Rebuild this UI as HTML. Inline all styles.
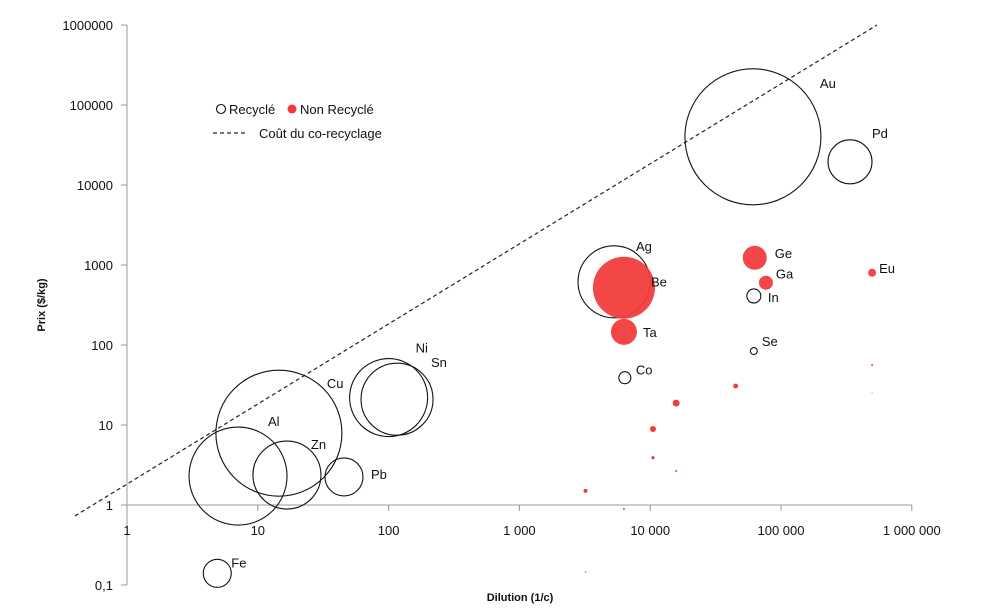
<!DOCTYPE html>
<html><head><meta charset="utf-8"><style>
body{margin:0;background:#fff}
svg{display:block;font-family:"Liberation Sans",sans-serif}
</style></head><body>
<svg id="c" width="1000" height="611"></svg>
<script>
const names=["Au","Pd","Ag","Be","Ta","Ge","Ga","In","Se","Eu","Co","Ni","Sn","Cu","Al","Zn","Pb","Fe"];
const dilution=[61000,337000,5290,6300,6300,63000,76700,62000,62000,497000,6400,100,116,14.5,7.06,16.7,45.6,4.9];
const price=[40000,19500,616,520,146,1230,600,410,84,800,39,22,21,7.9,2.3,2.37,2.24,0.14];
const bubbleSize=[4624,484,1296,961,169,144,49,49,12,16,36,1521,1296,3969,2401,1156,361,196];
const recycled=[1,1,1,0,0,0,0,1,1,0,1,1,1,1,1,1,1,1];
const labelDx=[67,22,22,27,19,20,10,14,8,7,11,27,34,48,30,24,27,14];
const labelDy=[-54,-29,-36,-6,0,-5,-9,1,-10,-5,-8,-50,-37,-50,-55,-31,-3,-11];
const dotsX=[10500,15800,45000,10500,15800,3200,6300,3200,497000,497000];
const dotsY=[8.9,18.8,30.7,3.9,2.66,1.5,0.89,0.145,56,25];
const dotsSize=[9,12,6,2.5,1,4,1,0.5,1,0.3];
const lineX=[0.4,542000];
const lineY=[0.73,1000000];
const yTicks=[0.1,1,10,100,1000,10000,100000,1000000];
const yTickLabels=["0,1","1","10","100","1000","10000","100000","1000000"];
const xTicks=[1,10,100,1000,10000,100000,1000000];
const xTickLabels=["1","10","100","1 000","10 000","100 000","1 000 000"];

const X=v=>127+130.8*Math.log10(v);
const Y=v=>505-80*Math.log10(v);
const svg=document.getElementById('c');
const NS="http://www.w3.org/2000/svg";
function mk(t,a,p){const e=document.createElementNS(NS,t);for(const k in a)e.setAttribute(k,a[k]);(p||svg).appendChild(e);return e;}

// axes
let ya=mk('line',{x1:127,y1:25,x2:127,y2:585,stroke:'#999','stroke-width':1});


let xa=mk('line',{x1:127,y1:505,x2:912,y2:505,stroke:'#999','stroke-width':1});


yTicks.forEach((v,i)=>{
  mk('line',{x1:121,y1:Y(v),x2:127,y2:Y(v),stroke:'#999'});
  const t=mk('text',{x:113,y:Y(v)+5,'text-anchor':'end','font-size':13,fill:'#111'});
  t.textContent=yTickLabels[i];
  
  
});
xTicks.forEach((v,i)=>{
  mk('line',{x1:X(v),y1:505,x2:X(v),y2:511,stroke:'#999'});
  const t=mk('text',{x:X(v),y:535,'text-anchor':'middle','font-size':13,fill:'#111'});
  t.textContent=xTickLabels[i];
  
  
});
let xt=mk('text',{x:520,y:601,'text-anchor':'middle','font-size':11,'font-weight':'bold',fill:'#111'});
xt.textContent="Dilution (1/c)";


let yt=mk('text',{x:0,y:0,transform:'translate(45,305) rotate(-90)','text-anchor':'middle','font-size':11,'font-weight':'bold',fill:'#111'});
yt.textContent="Prix ($/kg)";



// co-recycling cost line
let dl=mk('line',{x1:X(lineX[0]),y1:Y(lineY[0]),x2:X(lineX[1]),y2:Y(lineY[1]),stroke:'#222','stroke-width':1.2,'stroke-dasharray':'4,3'});



// small dots
dotsX.forEach((v,i)=>{
  const c=mk('circle',{cx:X(v),cy:Y(dotsY[i]),r:Math.sqrt(dotsSize[i]),fill:'#f03c3c'});
  
  
});
// bubbles
names.forEach((n,i)=>{
  const cx=X(dilution[i]),cy=Y(price[i]),r=Math.sqrt(bubbleSize[i]);
  const c=mk('circle',{cx:cx,cy:cy,r:r,fill:recycled[i]?'none':'#f23c3c','fill-opacity':recycled[i]?0:0.95,stroke:recycled[i]?'#111':'none','stroke-width':1.1});
  
  
  const t=mk('text',{x:cx+labelDx[i],y:cy+labelDy[i]+5,'font-size':13,fill:'#111'});
  t.textContent=n;
  
  
});

// legend
let lc=mk('circle',{cx:221,cy:109,r:4.5,fill:'none',stroke:'#111','stroke-width':1.1});


let lt=mk('text',{x:229,y:114,'font-size':13,fill:'#111'});lt.textContent="Recyclé";


let lr=mk('circle',{cx:292,cy:109,r:4.5,fill:'#f23c3c'});


let lt2=mk('text',{x:300,y:114,'font-size':13,fill:'#111'});lt2.textContent="Non Recyclé";


let ll=mk('line',{x1:213,y1:133,x2:246,y2:133,stroke:'#222','stroke-width':1.2,'stroke-dasharray':'4,3'});


let lt3=mk('text',{x:259,y:138,'font-size':13,fill:'#111'});lt3.textContent="Coût du co-recyclage";


</script>
</body></html>
